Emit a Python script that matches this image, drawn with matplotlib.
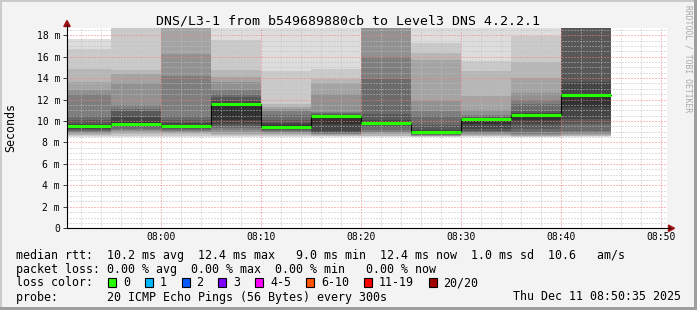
import matplotlib
matplotlib.use('Agg')
import matplotlib.pyplot as plt
from matplotlib.lines import Line2D
from matplotlib.patches import Rectangle, Polygon
from matplotlib.ticker import MultipleLocator, FuncFormatter

# 5-minute rounds, 20 pings each (ms, sorted)
starts = ['07:50', '07:55', '08:00', '08:05', '08:10', '08:15',
          '08:20', '08:25', '08:30', '08:35', '08:40']
median_ms = [9.49, 9.70, 9.54, 11.58, 9.45, 10.47, 9.83, 9.02, 10.23, 10.58, 12.42]

pings_0750 = [8.50, 8.60, 8.68, 8.76, 8.85, 8.95, 9.05, 9.15, 9.28, 9.40,
              9.60, 9.73, 10.05, 10.51, 12.50, 12.86, 13.64, 14.89, 16.76, 17.60]
pings_0755 = [8.50, 8.60, 8.75, 8.90, 9.05, 9.15, 9.30, 9.45, 9.55, 9.65,
              9.89, 10.35, 10.98, 11.10, 11.45, 13.55, 14.42, 14.73, 19.5, 20.5]
pings_0800 = [8.50, 8.62, 8.75, 8.85, 8.95, 9.05, 9.15, 9.25, 9.35, 9.46,
              9.62, 9.80, 10.05, 10.51, 14.17, 16.29, 19.5, 21.0, 23.0, 25.0]
pings_0805 = [8.50, 8.60, 8.70, 8.80, 8.95, 9.15, 9.35, 9.55, 9.70, 10.05,
              11.70, 11.90, 12.20, 12.55, 12.86, 13.64, 14.10, 14.73, 17.54, 20.0]
pings_0810 = [8.50, 8.60, 8.70, 8.80, 8.90, 9.00, 9.10, 9.20, 9.30, 9.40,
              9.60, 9.80, 10.05, 10.60, 10.98, 11.10, 11.30, 11.55, 14.64, 19.5]
pings_0815 = [8.50, 8.56, 8.62, 8.70, 8.75, 8.80, 8.90, 9.00, 9.11, 9.73,
              10.52, 10.58, 10.66, 10.74, 10.82, 12.55, 13.50, 13.95, 14.89, 19.2]
pings_0820 = [8.50, 8.57, 8.65, 8.75, 8.85, 8.95, 9.20, 9.40, 9.60, 9.76,
              9.90, 10.05, 10.67, 13.95, 15.98, 19.0, 20.0, 22.0, 24.0, 26.0]
pings_0825 = [8.50, 8.53, 8.56, 8.60, 8.63, 8.67, 8.72, 8.78, 8.85, 8.95,
              9.10, 9.20, 9.60, 10.51, 10.98, 11.90, 15.73, 16.35, 17.29, 19.0]
pings_0830 = [8.50, 8.57, 8.64, 8.72, 8.80, 8.90, 9.00, 9.11, 9.27, 9.73,
              10.25, 10.30, 10.36, 10.45, 10.60, 11.00, 12.35, 14.68, 15.60, 19.0]
pings_0835 = [8.50, 8.55, 8.60, 8.65, 8.72, 8.80, 9.00, 9.27, 9.73, 10.05,
              10.65, 10.75, 10.90, 11.61, 12.00, 12.65, 14.00, 15.50, 17.90, 19.0]
pings_0840 = [8.50, 8.57, 8.64, 8.72, 8.80, 8.90, 9.11, 9.73, 10.20, 11.29,
              12.55, 13.64, 19.0, 19.5, 20.0, 21.0, 22.0, 23.0, 24.0, 25.0]

time_ticks = ['08:00', '08:10', '08:20', '08:30', '08:40', '08:50']

loss_labels = ['0', '1', '2', '3', '4-5', '6-10', '11-19', '20/20']
loss_colors = ['#26ff00', '#00b8ff', '#0059ff', '#7e00ff',
               '#ff00ff', '#ff5500', '#ff0000', '#a10000']

title = 'DNS/L3-1 from b549689880cb to Level3 DNS 4.2.2.1'
legend_rtt = 'median rtt:  10.2 ms avg  12.4 ms max   9.0 ms min  12.4 ms now  1.0 ms sd  10.6   am/s'
legend_loss = 'packet loss: 0.00 % avg  0.00 % max  0.00 % min   0.00 % now'
legend_probe = 'probe:       20 ICMP Echo Pings (56 Bytes) every 300s'
stamp = 'Thu Dec 11 08:50:35 2025'

pings = [pings_0750, pings_0755, pings_0800, pings_0805, pings_0810, pings_0815,
         pings_0820, pings_0825, pings_0830, pings_0835, pings_0840]

W, H = 697, 310
MONO = 'DejaVu Sans Mono'


def minutes(hhmm):
    h, m = hhmm.split(':')
    return (int(h) - 7) * 60 + int(m) - 50   # minutes since 07:50


def fx(px):
    return px / W


def fy(py):
    return 1 - py / H


fig = plt.figure(figsize=(W / 100, H / 100), dpi=100, facecolor='#f3f3f3')

ax = fig.add_axes([fx(67), fy(228.3), fx(667) - fx(67), fy(27.7) - fy(228.3)])
ax.set_facecolor('white')
ax.set_xlim(35 / 60, 60 + 35 / 60)
ax.set_ylim(0, 18.7)

# smoke: nested bands, outer pair lightest
step = 5
half = 10
x0 = [minutes(s) for s in starts]
for x, p in zip(x0, pings):
    p = sorted(p)
    for k in range(half):
        lvl = int(190 / half * (half - 1 - k)) + 50
        g = '#%02x%02x%02x' % (lvl, lvl, lvl)
        ax.bar(x, p[19 - k] - p[k], bottom=p[k], width=step, align='edge',
               color=g, linewidth=0, zorder=1)

# median line
xs = x0 + [x0[-1] + step]
ys = median_ms + [median_ms[-1]]
ax.step(xs, ys, where='post', color='#000000', lw=0.8, zorder=3)
ax.hlines(median_ms, x0, [x + step for x in x0], colors=loss_colors[0], lw=2.2, zorder=4)

# grid (rrdtool style dotted)
ax.xaxis.set_major_locator(MultipleLocator(10))
ax.xaxis.set_minor_locator(MultipleLocator(2))
ax.yaxis.set_major_locator(MultipleLocator(2))
ax.yaxis.set_minor_locator(MultipleLocator(0.5))
ax.set_axisbelow(False)
ax.grid(which='major', color=(0.96, 0.5, 0.5, 0.6), linestyle=(0, (1, 2)), lw=0.72)
ax.grid(which='minor', color=(0.75, 0.75, 0.75, 0.6), linestyle=(0, (1, 2)), lw=0.72)

ax.set_xticks([minutes(t) for t in time_ticks], labels=time_ticks)
ax.yaxis.set_major_formatter(FuncFormatter(lambda v, _: '0' if v == 0 else '%d m' % v))
ax.tick_params(which='minor', length=0)
ax.tick_params(axis='x', which='major', length=0, pad=3, labelsize=7)
ax.tick_params(axis='y', which='major', length=3, width=0.72, pad=2,
               color='#404040', labelsize=7)
for lab in ax.get_xticklabels() + ax.get_yticklabels():
    lab.set_family(MONO)
for s in ax.spines.values():
    s.set_visible(False)

# axis lines with arrows
fig.add_artist(Line2D([fx(67), fx(67)], [fy(228.3), fy(25)], color='black',
                      lw=0.8, transform=fig.transFigure))
fig.add_artist(Line2D([fx(67), fx(670)], [fy(228.3), fy(228.3)], color='black',
                      lw=0.8, transform=fig.transFigure))
fig.add_artist(Polygon([(fx(67), fy(20.5)), (fx(63.8), fy(26.5)), (fx(70.2), fy(26.5))],
                       closed=True, color='#a01010', transform=fig.transFigure))
fig.add_artist(Polygon([(fx(674.5), fy(228.3)), (fx(668.5), fy(225.1)), (fx(668.5), fy(231.5))],
                       closed=True, color='#a01010', transform=fig.transFigure))

# texts
fig.text(0.5, fy(24), title, ha='center', va='baseline', fontsize=9.5, family=MONO)
fig.text(fx(11), fy(128), 'Seconds', rotation=90, ha='center', va='center',
         fontsize=8.35, family=MONO)
fig.text(fx(688), fy(5), 'RRDTOOL / TOBI OETIKER', rotation=270, ha='center', va='top',
         fontsize=5.8, family=MONO, color='#a8a8a8')

fig.text(fx(16), fy(258.5), legend_rtt, va='baseline', fontsize=8.35, family=MONO)
fig.text(fx(16), fy(272.5), legend_loss, va='baseline', fontsize=8.35, family=MONO)
fig.text(fx(16), fy(286.5), 'loss color:', va='baseline', fontsize=8.35, family=MONO)
fig.text(fx(16), fy(300.5), legend_probe, va='baseline', fontsize=8.35, family=MONO)
fig.text(fx(681), fy(300.5), stamp, ha='right', va='baseline', fontsize=8.35, family=MONO)

bx = 108
for lab, col in zip(loss_labels, loss_colors):
    fig.add_artist(Rectangle((fx(bx), fy(286.5)), fx(8), 8.5 / H, facecolor=col,
                             edgecolor='black', lw=0.8, transform=fig.transFigure))
    fig.text(fx(bx + 15), fy(286.5), lab, va='baseline', fontsize=8.35, family=MONO)
    bx += 15 + 7 * len(lab) + 14.8

# 3d frame
fig.add_artist(Rectangle((0, fy(2)), 1, 2 / H, color='#cbcbcb', lw=0, transform=fig.transFigure))
fig.add_artist(Rectangle((0, 0), fx(2), 1, color='#cbcbcb', lw=0, transform=fig.transFigure))
fig.add_artist(Rectangle((0, 0), 1, 3 / H, color='#9e9e9e', lw=0, transform=fig.transFigure))
fig.add_artist(Rectangle((fx(694), 0), fx(3), 1, color='#9e9e9e', lw=0, transform=fig.transFigure))

fig.savefig('out.png', dpi=100, facecolor=fig.get_facecolor())
